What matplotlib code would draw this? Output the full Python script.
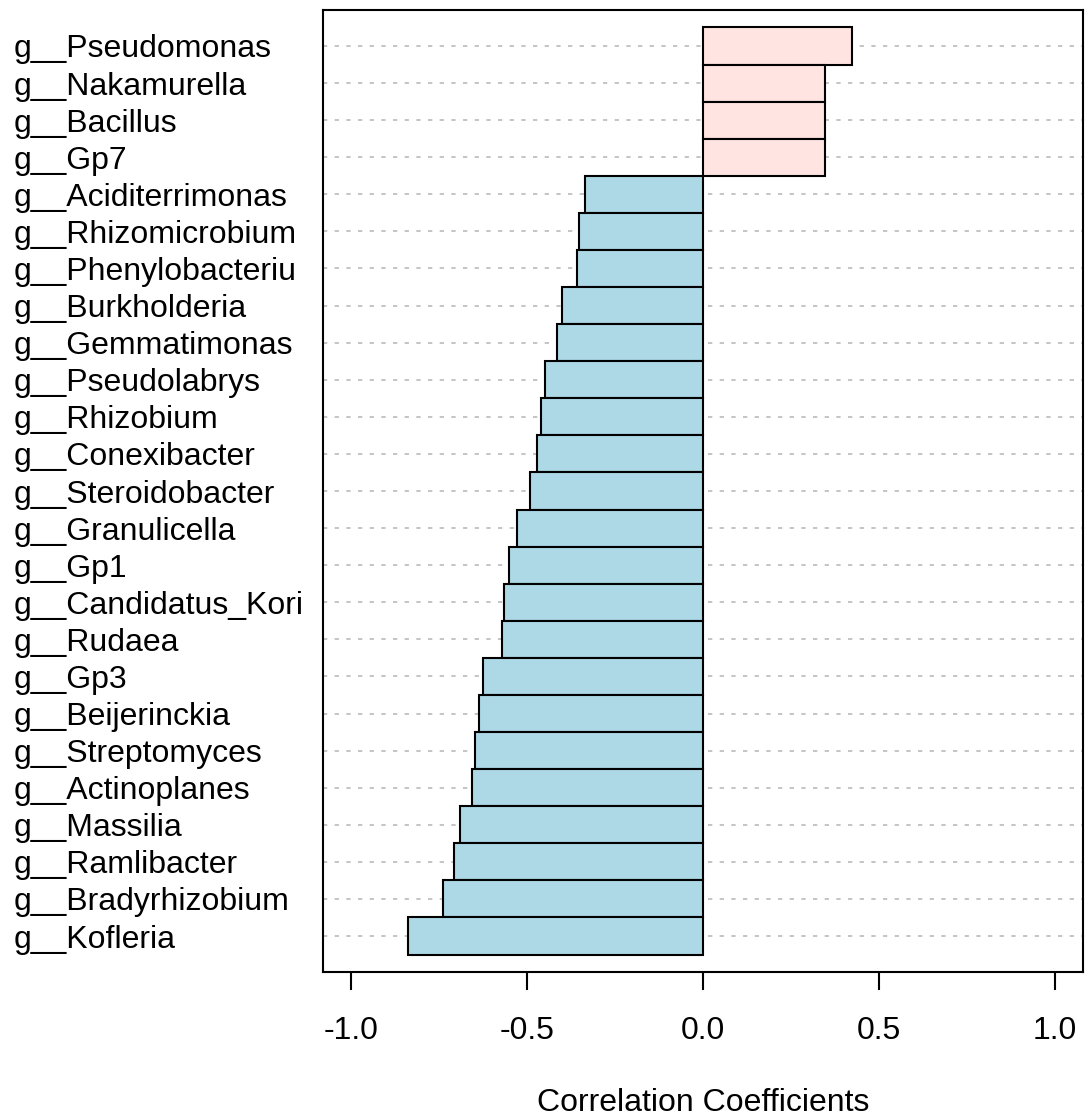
import matplotlib
matplotlib.use("Agg")
import matplotlib.pyplot as plt
import numpy as np

plt.rcParams['font.family'] = ['Liberation Sans', 'DejaVu Sans']
plt.rcParams['axes.unicode_minus'] = False

genera = ["g__Pseudomonas", "g__Nakamurella", "g__Bacillus", "g__Gp7",
          "g__Aciditerrimonas", "g__Rhizomicrobium", "g__Phenylobacteriu",
          "g__Burkholderia", "g__Gemmatimonas", "g__Pseudolabrys",
          "g__Rhizobium", "g__Conexibacter", "g__Steroidobacter",
          "g__Granulicella", "g__Gp1", "g__Candidatus_Kori", "g__Rudaea",
          "g__Gp3", "g__Beijerinckia", "g__Streptomyces", "g__Actinoplanes",
          "g__Massilia", "g__Ramlibacter", "g__Bradyrhizobium", "g__Kofleria"]
coefficients = [0.424, 0.347, 0.347, 0.345,
                -0.336, -0.353, -0.358, -0.400, -0.415, -0.449,
                -0.460, -0.472, -0.492, -0.528, -0.553, -0.565, -0.571,
                -0.626, -0.638, -0.647, -0.657, -0.691, -0.707, -0.738, -0.838]
xticks = [-1.0, -0.5, 0.0, 0.5, 1.0]
xtick_labels = ["-1.0", "-0.5", "0.0", "0.5", "1.0"]
xlabel = "Correlation Coefficients"

pos_color = "#FFE4E1"
neg_color = "#ADD8E6"

W, H = 1092, 1119
fig = plt.figure(figsize=(W / 100, H / 100), dpi=100)
ax = fig.add_axes([323 / W, 1 - 972 / H, (1083 - 323) / W, (972 - 10) / H])

n = len(genera)
ypos = np.arange(n)
colors = [pos_color if v > 0 else neg_color for v in coefficients]

for y in ypos:
    ax.axhline(y, color="#c4c4c4", linestyle=(0, (2.2, 3.8)), linewidth=1.4, zorder=0)

ax.barh(ypos, coefficients, height=1.0, color=colors, edgecolor="black",
        linewidth=1.5, zorder=2)

ax.set_ylim(n - 0.5 + 0.47, -0.5 - 0.47)
ax.set_xlim(-1.08, 1.079)

ax.set_xticks(xticks)
ax.set_xticklabels(xtick_labels, fontsize=23)
ax.tick_params(axis='x', length=13, width=1.5, pad=19)

ax.set_yticks(ypos)
ax.set_yticklabels(genera, fontsize=23, ha='left')
ax.tick_params(axis='y', length=0, pad=(323 - 14) * 0.72)

ax.set_xlabel(xlabel, fontsize=23, labelpad=30)

for s in ax.spines.values():
    s.set_linewidth(1.5)

fig.savefig("out.png", dpi=100)
